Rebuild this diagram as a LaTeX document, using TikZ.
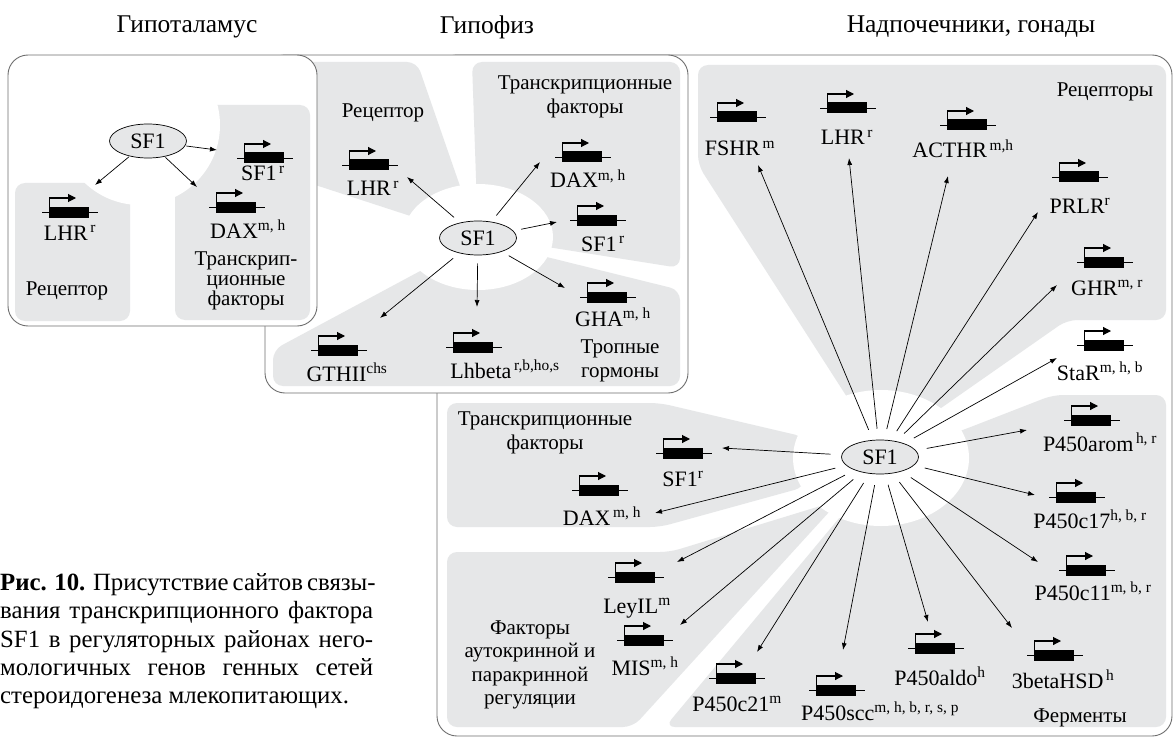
\documentclass[tikz,border=0pt]{standalone}
\usepackage{fontspec}
\setmainfont{Liberation Serif}
\usetikzlibrary{arrows.meta,shapes.geometric}
\definecolor{regiongray}{RGB}{230,231,232}
\definecolor{framegray}{RGB}{110,110,110}
\newcommand\sx[1]{\textsuperscript{#1}}
\begin{document}
\begin{tikzpicture}[x=1pt,y=-1pt,
  frame/.style={draw=framegray, line width=0.9pt, rounded corners=20pt},
  region/.style={fill=regiongray, draw=none, rounded corners=10pt},
  halo/.style={fill=white, draw=none},
  tf/.style={ellipse, draw=black, line width=0.7pt, fill=regiongray, minimum width=77pt, minimum height=34pt, inner sep=0pt, font=\fontsize{22}{24}\selectfont},
  lbl/.style={inner sep=0pt, anchor=base, font=\fontsize{22}{24}\selectfont},
  cat/.style={inner sep=0pt, align=center, font=\fontsize{21}{23.5}\selectfont},
  ttl/.style={inner sep=0pt, font=\fontsize{25.5}{27}\selectfont},
  capl/.style={inner sep=0pt, anchor=base west, font=\fontsize{24.8}{28}\selectfont},
  conn/.style={line width=0.7pt, -{Latex[length=7pt,width=5pt]}},
  pics/gene/.style={code={
    \draw[line width=0.8pt] (-28,0) -- (28,0);
    \fill (-21,-5.5) rectangle (19,5.5);
    \draw[line width=1.1pt, -{Triangle[length=8pt,width=8pt]}] (-20.5,-5) -- (-20.5,-14) -- (6,-14);
  }}
]
\useasboundingbox (0,0) rectangle (1174,738);

% titles
\node[ttl] (tHyp) at (187,27) {Гипоталамус};
\node[ttl] (tPit) at (487,27) {Гипофиз};
\node[ttl] (tAdr) at (971,27) {Надпочечники, гонады};

% ================= box 3 =================
\path[frame, fill=white] (437,55) rectangle (1172,736);
\fill[region] (698,65) -- (1166,65) -- (1166,320) -- (1067,320) -- (881,450) -- (698,165) -- cycle;
\fill[region] (1053,395) -- (1166,395) -- (1166,727) -- (665,727) -- (850,505) -- (881,458) -- (963,430) -- cycle;
\fill[region] (447,403) -- (660,403) -- (805,437) -- (805,487) -- (660,527) -- (447,527) -- cycle;
\fill[region] (447,552) -- (670,552) -- (840,500) -- (633,727) -- (447,727) -- cycle;
\fill[halo] (881,458) ellipse [x radius=88pt, y radius=68pt];

\node[tf] (sf3) at (880,457) {SF1};
\node[cat] (c3rec) at (1105,92) {Рецепторы};
\node[cat] (c3enz) at (1080,718) {Ферменты};
\node[cat] (c3tf) at (545,433) {Транскрипционные\\факторы};
\node[cat] (c3auto) at (530,665) {Факторы\\аутокринной и\\паракринной\\регуляции};

\pic at (738,117) {gene};  \node[lbl] (gFSHR) at (740,156) {FSHR\sx{\,m}};
\pic at (848,108) {gene};  \node[lbl] (gLHR3) at (847,145) {LHR\sx{\,r}};
\pic at (968,125) {gene};  \node[lbl] (gACTHR) at (963,158) {ACTHR\sx{\,m,h}};
\pic at (1080,177) {gene}; \node[lbl] (gPRLR) at (1080,213) {PRLR\sx{r}};
\pic at (1105,262) {gene}; \node[lbl] (gGHR) at (1107,295) {GHR\sx{m, r}};
\pic at (1105,345) {gene}; \node[lbl] (gStaR) at (1100,380) {StaR\sx{m, h, b}};
\pic at (1092,420) {gene}; \node[lbl] (gArom) at (1100,451) {P450arom\sx{\,h, r}};
\pic at (1077,497) {gene}; \node[lbl] (gC17) at (1090,528) {P450c17\sx{h, b, r}};
\pic at (1087,570) {gene}; \node[lbl] (gC11) at (1093,600) {P450c11\sx{m, b, r}};
\pic at (1055,655) {gene}; \node[lbl] (gHSD) at (1063,688) {3betaHSD\sx{\,h}};
\pic at (936,648) {gene};  \node[lbl] (gAldo) at (940,685) {P450aldo\sx{h}};
\pic at (837,690) {gene};  \node[lbl] (gScc) at (880,720) {P450scc\sx{m, h, b, r, s, p}};
\pic at (737,678) {gene};  \node[lbl] (gC21) at (737,711) {P450c21\sx{m}};
\pic at (645,640) {gene};  \node[lbl] (gMIS) at (645,675) {MIS\sx{m, h}};
\pic at (636,577) {gene};  \node[lbl] (gLey) at (637,613) {LeyIL\sx{m}};
\pic at (600,490) {gene};  \node[lbl] (gDAX3) at (602,525) {DAX\sx{\,m, h}};
\pic at (684,453) {gene};  \node[lbl] (gSF3) at (683,486) {SF1\sx{r}};

\coordinate (aFSHR) at (758,165);
\coordinate (aLHR3) at (849,158);
\coordinate (aACTHR) at (948,176);
\coordinate (aPRLR) at (1038,212);
\coordinate (aGHR) at (1057,285);
\coordinate (aStaR) at (1057,358);
\coordinate (aArom) at (1027,430);
\coordinate (aC17) at (1035,495);
\coordinate (aC11) at (1038,562);
\coordinate (aHSD) at (1012,628);
\coordinate (aAldo) at (928,622);
\coordinate (aScc) at (843,650);
\coordinate (aC21) at (757,652);
\coordinate (aMIS) at (680,625);
\coordinate (aLey) at (677,562);
\coordinate (aDAX3) at (655,513);
\coordinate (aSF3) at (722,448);
\foreach \t in {aFSHR,aLHR3,aACTHR,aPRLR,aGHR,aStaR,aArom,aC17,aC11,aHSD,aAldo,aScc,aC21,aMIS,aLey,aDAX3,aSF3}
  \draw[conn, shorten <=11pt] (sf3) -- (\t);

% ================= box 2 =================
\path[frame, fill=white] (265,55) rectangle (688,393);
\fill[region] (300,62) -- (417,62) -- (478,238) -- (300,180) -- cycle;
\fill[region] (472,62) -- (680,62) -- (680,268) -- (478,236) -- cycle;
\fill[region] (273,350) -- (478,240) -- (680,290) -- (680,386) -- (273,386) -- cycle;
\fill[halo] (478,237) ellipse [x radius=75pt, y radius=53pt];

\node[tf] (sf2) at (478,238) {SF1};
\node[cat] (c2rec) at (383,113) {Рецептор};
\node[cat] (c2tf) at (585,97) {Транскрипционные\\факторы};
\node[cat] (c2hor) at (620,361) {Тропные\\гормоны};

\pic at (370,165) {gene}; \node[lbl] (gLHR2) at (373,196) {LHR\sx{\,r}};
\pic at (583,157) {gene}; \node[lbl] (gDAX2) at (588,188) {DAX\sx{m, h}};
\pic at (598,220) {gene}; \node[lbl] (gSF2) at (603,251) {SF1\sx{\,r}};
\pic at (608,297) {gene}; \node[lbl] (gGHA) at (613,326) {GHA\sx{m, h}};
\pic at (474,347) {gene}; \node[lbl] (gLhb) at (505,378) {Lhbeta\sx{\,r,b,ho,s}};
\pic at (339,350) {gene}; \node[lbl] (gGTH) at (347,381) {GTHII\sx{chs}};

\coordinate (aLHR2) at (407,177);
\coordinate (aDAX2) at (540,162);
\coordinate (aSF2) at (557,222);
\coordinate (aGHA) at (565,288);
\coordinate (aLhb) at (477,307);
\coordinate (aGTH) at (380,318);
\foreach \t in {aLHR2,aDAX2,aSF2,aGHA,aLhb,aGTH}
  \draw[conn, shorten <=8pt] (sf2) -- (\t);

% ================= box 1 =================
\fill[white, rounded corners=20pt] (8,55) rectangle (317,326);
\fill[region] (15,183) rectangle (130,321);
\fill[region] (175,105) rectangle (310,320);
\fill[halo] (140,125) circle [radius=80pt];
\draw[frame] (8,55) rectangle (317,326);

\node[tf] (sf1) at (148,141) {SF1};
\node[cat] (c1rec) at (67,291) {Рецептор};
\node[cat, font=\fontsize{21}{20}\selectfont] (c1tf) at (246,281) {Транскрип-\\ционные\\факторы};
\pic at (70,212) {gene};  \node[lbl] (gLHR1) at (70,240) {LHR\sx{\,r}};
\pic at (265,158) {gene}; \node[lbl] (gSF1) at (263,181) {SF1\sx{\,r}};
\pic at (237,207) {gene}; \node[lbl] (gDAX1) at (248,238) {DAX\sx{m, h}};

\coordinate (aSF1) at (217,150);
\coordinate (aLHR1) at (95,185);
\coordinate (aDAX1) at (197,187);
\foreach \t in {aSF1,aLHR1,aDAX1}
  \draw[conn, shorten <=1pt] (sf1) -- (\t);

% ================= caption =================
\node[capl] (cap1) at (0,590) {\makebox[373pt][s]{\textbf{Рис. 10.} Присутствие сайтов связы-}};
\node[capl] (cap2) at (0,618) {\makebox[373pt][s]{вания транскрипционного фактора}};
\node[capl] (cap3) at (0,647) {\makebox[373pt][s]{SF1 в регуляторных районах него-}};
\node[capl] (cap4) at (0,675) {\makebox[373pt][s]{мологичных генов генных сетей}};
\node[capl] (cap5) at (0,703) {стероидогенеза млекопитающих.};
\end{tikzpicture}
\end{document}
